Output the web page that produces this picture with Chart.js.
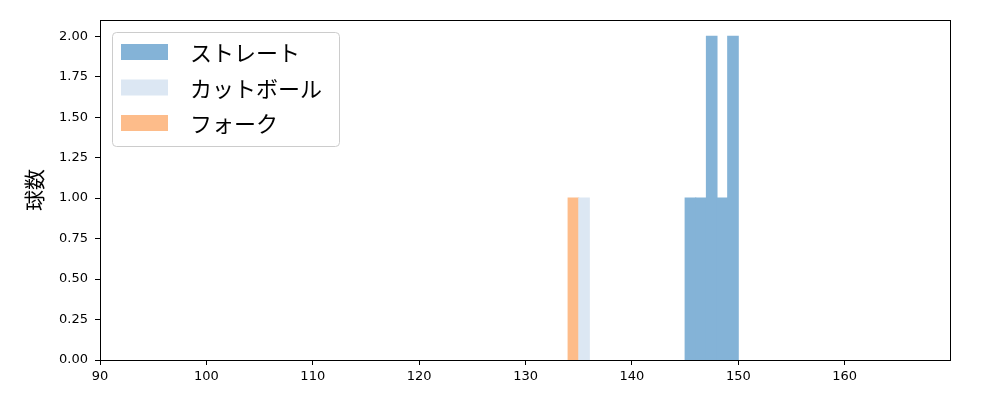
<!DOCTYPE html>
<html>
<head>
<meta charset="utf-8">
<script src="https://cdn.jsdelivr.net/npm/chart.js@4/dist/chart.umd.min.js"></script>
<style>
  html, body { margin: 0; padding: 0; background: #fff; }
  #wrap { width: 1000px; height: 400px; position: relative; }
</style>
</head>
<body>
<div id="wrap"><canvas id="chart"></canvas></div>
<script>
// histogram bins: left edge of each 1 km/h bin and its count
const seriesNames = ['ストレート', 'カットボール', 'フォーク']
const straightBins = [145, 146, 147, 148, 149]
const straightCounts = [1, 1, 2, 1, 2]
const cutBins = [135]
const cutCounts = [1]
const forkBins = [134]
const forkCounts = [1]
const xTicks = [90, 100, 110, 120, 130, 140, 150, 160]
const yTicks = [0, 0.25, 0.5, 0.75, 1, 1.25, 1.5, 1.75, 2]

// tab10 colours blended at half alpha on white (opaque so bars don't show seams)
const colors = ['rgb(132,179,215)', 'rgb(220,231,243)', 'rgb(253,188,138)']

const toPoints = (bins, counts) => bins.map((b, i) => ({ x: b + 0.5, y: counts[i] }))

const frame = {
    id: 'frame',
    afterDraw(chart) {
        const { ctx, chartArea: a } = chart
        ctx.save()
        ctx.strokeStyle = '#000'
        ctx.lineWidth = 1
        ctx.strokeRect(a.left + 0.5, a.top + 0.5, a.right - a.left, a.bottom - a.top)
        ctx.restore()
    }
}

// matplotlib style legend, drawn inside the plot area
const boxLegend = {
    id: 'boxLegend',
    afterDraw(chart) {
        const { ctx, chartArea: a } = chart
        const x = a.left + 12, y = a.top + 12, w = 227, h = 114
        ctx.save()
        ctx.beginPath()
        ctx.roundRect(x + 0.5, y + 0.5, w, h, 4)
        ctx.fillStyle = 'rgba(255,255,255,0.8)'
        ctx.fill()
        ctx.strokeStyle = '#cccccc'
        ctx.lineWidth = 1
        ctx.stroke()
        ctx.font = '22px "Noto Sans CJK JP", sans-serif'
        ctx.textBaseline = 'middle'
        chart.data.datasets.forEach((ds, i) => {
            const cy = y + 20 + i * 35.5
            ctx.fillStyle = ds.backgroundColor
            ctx.fillRect(x + 9, cy - 8, 47, 16)
            ctx.fillStyle = '#000'
            ctx.fillText(ds.label, x + 78, cy + 1)
        })
        ctx.restore()
    }
}

new Chart(document.getElementById('chart'), {
    type: 'bar',
    data: {
        datasets: [
            { label: seriesNames[0], data: toPoints(straightBins, straightCounts), backgroundColor: colors[0] },
            { label: seriesNames[1], data: toPoints(cutBins, cutCounts), backgroundColor: colors[1] },
            { label: seriesNames[2], data: toPoints(forkBins, forkCounts), backgroundColor: colors[2] },
        ]
    },
    options: {
        responsive: true,
        maintainAspectRatio: false,
        animation: false,
        grouped: false,
        barPercentage: 1,
        categoryPercentage: 1,
        borderWidth: 0,
        inflateAmount: 0.5,
        layout: { padding: { left: 0, right: 50, top: 20, bottom: 0 } },
        plugins: {
            legend: { display: false },
            tooltip: { enabled: false },
        },
        scales: {
            x: {
                type: 'linear',
                offset: false,
                min: 90,
                max: 169.9,
                afterFit: (s) => { s.height = 40 },
                afterBuildTicks: (s) => { s.ticks = xTicks.map(v => ({ value: v })) },
                grid: { display: true, drawOnChartArea: false, drawTicks: true, tickLength: 5, color: '#000', offset: false },
                border: { display: true, color: '#000', width: 1 },
                ticks: {
                    color: '#000',
                    padding: 4,
                    maxRotation: 0,
                    font: { family: 'DejaVu Sans', size: 13 },
                    callback: (v) => String(v),
                },
            },
            y: {
                type: 'linear',
                min: 0,
                max: 2.1,
                afterFit: (s) => { s.width = 100 },
                afterBuildTicks: (s) => { s.ticks = yTicks.map(v => ({ value: v })) },
                grid: { display: true, drawOnChartArea: false, drawTicks: true, tickLength: 5, color: '#000' },
                border: { display: true, color: '#000', width: 1 },
                title: {
                    display: true,
                    text: '球数',
                    color: '#000',
                    font: { family: '"Noto Sans CJK JP"', size: 21 },
                    padding: { top: 21, bottom: 4 },
                },
                ticks: {
                    color: '#000',
                    padding: 7,
                    font: { family: 'DejaVu Sans', size: 13 },
                    callback: (v) => v.toFixed(2),
                },
            },
        },
    },
    plugins: [frame, boxLegend],
})
</script>
</body>
</html>
